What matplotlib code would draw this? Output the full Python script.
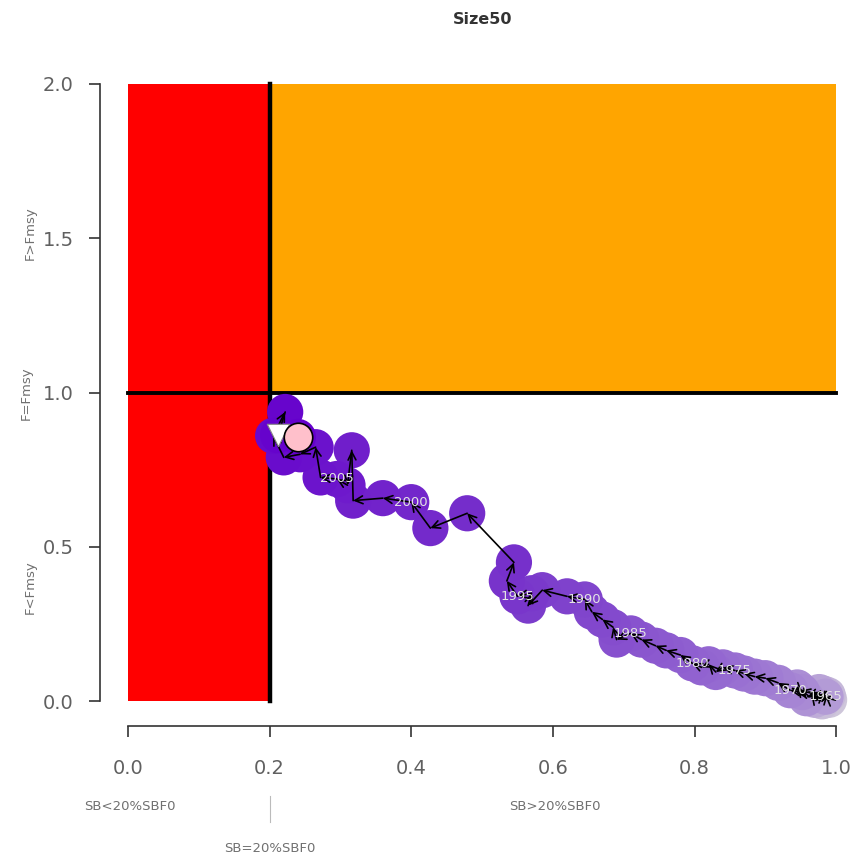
import numpy as np
import matplotlib
matplotlib.use('Agg')
import matplotlib.pyplot as plt
from matplotlib.colors import LinearSegmentedColormap

# trajectory (SB/SBF0, F/Fmsy), one point per year
years = list(range(1955, 2014))
sb = [0.990, 0.985, 0.980, 0.988, 0.975, 0.982, 0.970, 0.965, 0.976, 0.960,
      0.985, 0.950, 0.958, 0.945, 0.952, 0.935, 0.918, 0.900, 0.885, 0.870,
      0.857, 0.840, 0.830, 0.820, 0.810, 0.797, 0.780, 0.760, 0.745, 0.725,
      0.710, 0.690, 0.685, 0.670, 0.655, 0.645, 0.620, 0.585, 0.565, 0.570,
      0.550, 0.535, 0.545, 0.479, 0.427, 0.400, 0.360, 0.318, 0.316, 0.310,
      0.295, 0.272, 0.265, 0.243, 0.220, 0.205, 0.222, 0.212, 0.240]
ff = [0.005, 0.015, 0.000, 0.020, 0.010, 0.025, 0.005, 0.020, 0.030, 0.015,
      0.015, 0.035, 0.010, 0.045, 0.030, 0.036, 0.060, 0.075, 0.080, 0.090,
      0.100, 0.110, 0.095, 0.120, 0.110, 0.123, 0.150, 0.165, 0.180, 0.200,
      0.220, 0.200, 0.240, 0.265, 0.290, 0.330, 0.340, 0.360, 0.310, 0.350,
      0.340, 0.390, 0.450, 0.609, 0.561, 0.645, 0.658, 0.650, 0.813, 0.700,
      0.720, 0.725, 0.823, 0.800, 0.790, 0.860, 0.937, 0.862, 0.856]
label_years = [1965, 1970, 1975, 1980, 1985, 1990, 1995, 2000, 2005]

sb_lim = 0.2
f_lim = 1.0
yticks = [0.0, 0.5, 1.0, 1.5, 2.0]
xticks = [0.0, 0.2, 0.4, 0.6, 0.8, 1.0]

fig = plt.figure(figsize=(8.56, 8.58), dpi=100)
ax = fig.add_axes([0.1168, 0.1538, 0.8832, 0.7774])

# quadrants
ax.fill_between([0, sb_lim], 0, 2, color='#FF0000', lw=0, zorder=1)
ax.fill_between([sb_lim, 1], f_lim, 2, color='#FFA500', lw=0, zorder=1)
ax.plot([sb_lim, sb_lim], [0, 2], color='black', lw=3.2, zorder=2)
ax.plot([0, 1], [f_lim, f_lim], color='black', lw=2.8, zorder=2)

cmap = LinearSegmentedColormap.from_list('traj', ['#CEC6DA', '#9A72D2', '#7A3ACB', '#6500CC'])
cols = cmap(np.linspace(0, 1, len(years)))
ax.scatter(sb, ff, s=680, c=cols, lw=0, zorder=3)

for i in range(len(years) - 1):
    ax.annotate('', xy=(sb[i + 1], ff[i + 1]), xytext=(sb[i], ff[i]),
                arrowprops=dict(arrowstyle='->', color='black', lw=1.2,
                                mutation_scale=14, shrinkA=0, shrinkB=0),
                zorder=4)

for yr in label_years:
    i = years.index(yr)
    ax.text(sb[i], ff[i], str(yr), color='#E4E4E4', fontsize=9.5,
            ha='center', va='center', zorder=5)

# reference markers
ax.scatter([sb[-2]], [ff[-2]], marker='v', s=260, c='white', edgecolors='#888888', lw=0.8, zorder=6)
ax.scatter([sb[-1]], [ff[-1]], marker='o', s=420, c='#FFC0CB', edgecolors='black', lw=1.2, zorder=7)

ax.set_xlim(-0.0395, 1.028)
ax.set_ylim(-0.08, 2.08)
for s in ['top', 'right']:
    ax.spines[s].set_visible(False)
ax.spines['left'].set_bounds(0, 2)
ax.spines['bottom'].set_bounds(0, 1)
for s in ['left', 'bottom']:
    ax.spines[s].set_color('#333333')
    ax.spines[s].set_linewidth(1.2)
ax.set_xticks(xticks)
ax.set_yticks(yticks)
ax.set_xticklabels([f'{v:.1f}' for v in xticks])
ax.set_yticklabels([f'{v:.1f}' for v in yticks])
ax.tick_params(axis='both', length=8, width=1.2, color='#333333', labelcolor='#606060', labelsize=14)
ax.tick_params(axis='x', pad=16)
ax.tick_params(axis='y', pad=11)

small = dict(fontsize=9.5, color='#707070')
fig.text(30 / 856, 1 - 233 / 858, 'F>Fmsy', rotation=90, ha='center', va='center', **small)
fig.text(26 / 856, 1 - 393 / 858, 'F=Fmsy', rotation=90, ha='center', va='center', **small)
fig.text(30 / 856, 1 - 587 / 858, 'F<Fmsy', rotation=90, ha='center', va='center', **small)
fig.text(130 / 856, 1 - 806 / 858, 'SB<20%SBF0', ha='center', va='center', **small)
fig.text(555 / 856, 1 - 806 / 858, 'SB>20%SBF0', ha='center', va='center', **small)
fig.text(270 / 856, 1 - 849 / 858, 'SB=20%SBF0', ha='center', va='center', **small)
fig.add_artist(plt.Line2D([270 / 856, 270 / 856], [1 - 822 / 858, 1 - 796 / 858], color='#BBBBBB', lw=0.8))

fig.text(483 / 856, 1 - 20 / 858, 'Size50', ha='center', va='center', fontsize=11.5,
         fontweight='semibold', color='#333333')

fig.savefig('out.png', dpi=100)
